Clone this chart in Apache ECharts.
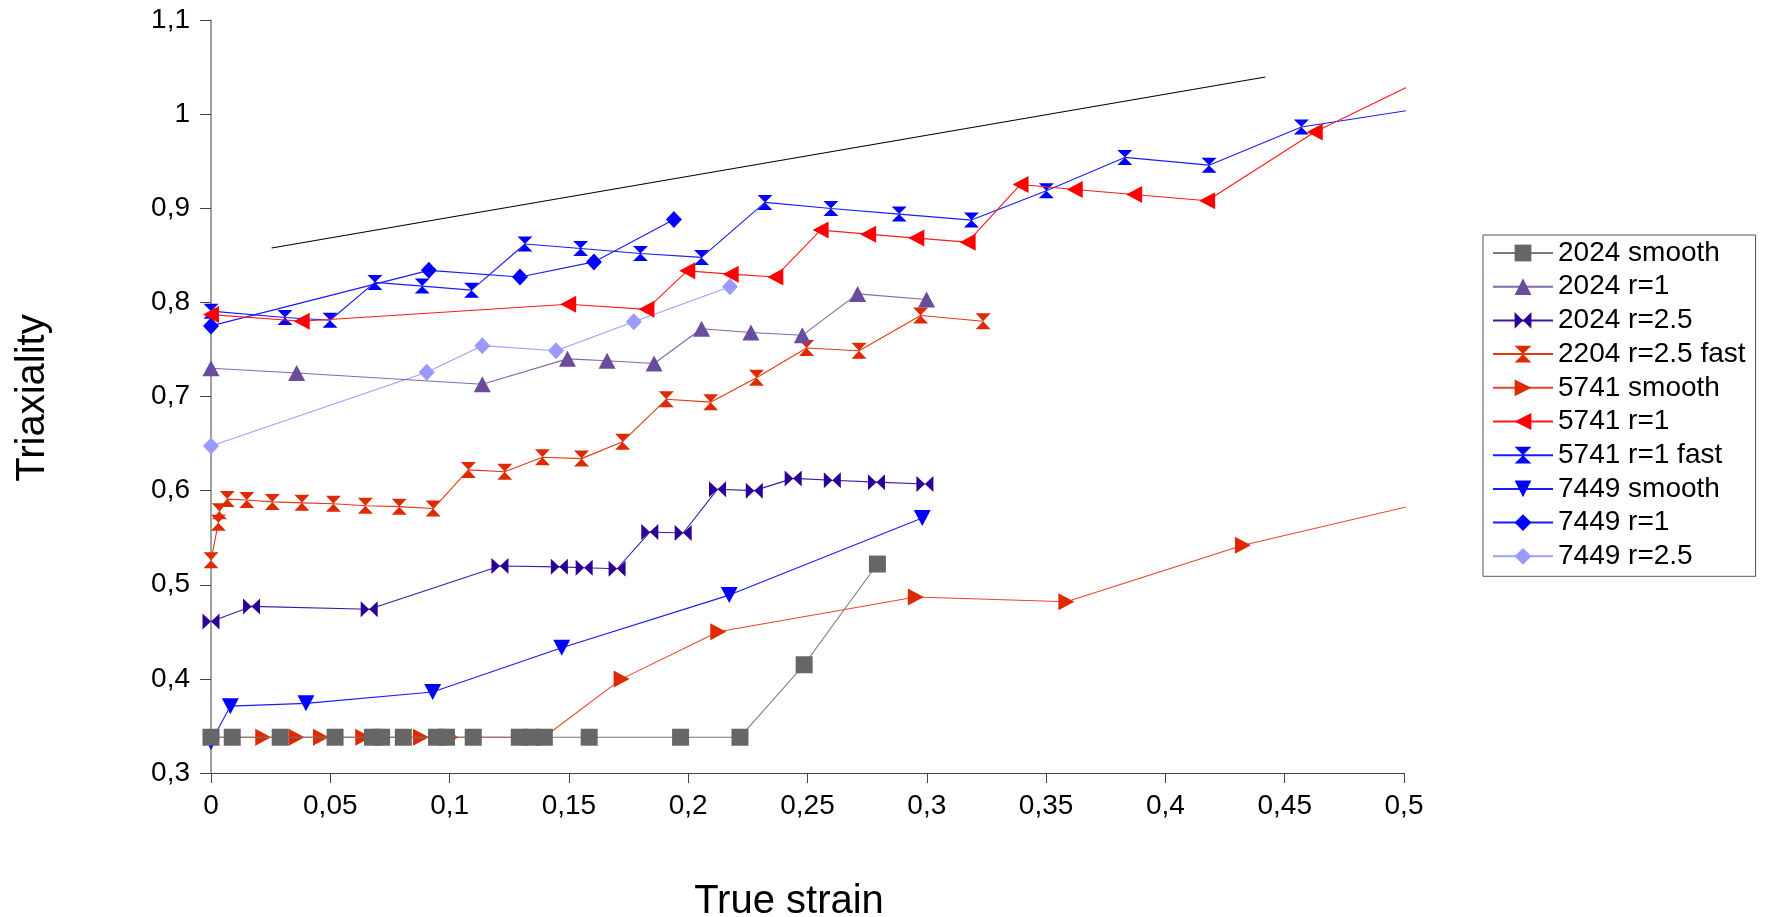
<!DOCTYPE html>
<html>
<head>
<meta charset="utf-8">
<title>Triaxiality vs true strain</title>
<script src="https://cdn.jsdelivr.net/npm/echarts@6/dist/echarts.min.js"></script>
<style>
  html, body { margin: 0; padding: 0; background: #ffffff; }
  #chart { width: 1773px; height: 917px; }
</style>
</head>
<body>
<div id="chart"></div>
<script>
// ---- Measured data: true strain (x) and triaxiality (y) per specimen ----
const seriesNames = [
  '2024 smooth', '2024 r=1', '2024 r=2.5', '2204 r=2.5 fast', '5741 smooth',
  '5741 r=1', '5741 r=1 fast', '7449 smooth', '7449 r=1', '7449 r=2.5'
];

const s2024SmoothX = [0, 0.0089, 0.029, 0.052, 0.0677, 0.0715, 0.0806, 0.0945, 0.0987, 0.1099, 0.1292, 0.1344, 0.1397, 0.1585, 0.1968, 0.2217, 0.2486, 0.2793];
const s2024SmoothY = [0.338, 0.338, 0.338, 0.338, 0.338, 0.338, 0.338, 0.338, 0.338, 0.338, 0.338, 0.338, 0.338, 0.338, 0.338, 0.338, 0.415, 0.522];

const s2024R1X = [0, 0.0359, 0.1137, 0.1494, 0.166, 0.1857, 0.2056, 0.2263, 0.2478, 0.271, 0.2999];
const s2024R1Y = [0.730, 0.725, 0.713, 0.740, 0.738, 0.735, 0.772, 0.768, 0.765, 0.809, 0.803];

const s2024R25X = [0, 0.017, 0.0663, 0.1211, 0.146, 0.1564, 0.1702, 0.1839, 0.1979, 0.2123, 0.2277, 0.244, 0.2604, 0.2789, 0.2992];
const s2024R25Y = [0.461, 0.477, 0.474, 0.520, 0.519, 0.518, 0.517, 0.556, 0.555, 0.6015, 0.600, 0.613, 0.611, 0.609, 0.607];

const s2204FastX = [0, 0.0031, 0.0035, 0.0068, 0.015, 0.0257, 0.0381, 0.0513, 0.0647, 0.0789, 0.0931, 0.1079, 0.1231, 0.1389, 0.1553, 0.1725, 0.1908, 0.2094, 0.2286, 0.2496, 0.2716, 0.2974, 0.3236];
const s2204FastY = [0.526, 0.566, 0.578, 0.591, 0.590, 0.588, 0.587, 0.586, 0.584, 0.583, 0.581, 0.622, 0.620, 0.6355, 0.634, 0.652, 0.697, 0.694, 0.720, 0.7515, 0.7486, 0.786, 0.780];

const s5741SmoothX = [0, 0.0095, 0.0219, 0.0359, 0.0461, 0.0638, 0.088, 0.1005, 0.1395, 0.1721, 0.2126, 0.2954, 0.3585, 0.4325, 0.53];
const s5741SmoothY = [0.338, 0.338, 0.338, 0.338, 0.338, 0.338, 0.338, 0.338, 0.338, 0.400, 0.450, 0.487, 0.482, 0.542, 0.600];

const s5741R1X = [0, 0.038, 0.1497, 0.1825, 0.1996, 0.2178, 0.2365, 0.2555, 0.2754, 0.2956, 0.3171, 0.3393, 0.362, 0.3869, 0.4175, 0.4626, 0.53];
const s5741R1Y = [0.787, 0.780, 0.798, 0.7926, 0.8335, 0.830, 0.827, 0.8768, 0.8725, 0.8683, 0.864, 0.9253, 0.920, 0.9146, 0.908, 0.981, 1.064];

const s5741FastX = [0, 0.031, 0.0499, 0.0687, 0.0885, 0.1092, 0.1316, 0.1549, 0.180, 0.2056, 0.2322, 0.2598, 0.2884, 0.3187, 0.3501, 0.383, 0.4183, 0.457, 0.53];
const s5741FastY = [0.7907, 0.784, 0.781, 0.8212, 0.8173, 0.813, 0.862, 0.8573, 0.852, 0.8478, 0.9062, 0.8998, 0.8938, 0.8874, 0.9185, 0.954, 0.9458, 0.9864, 1.015];

const s7449SmoothX = [0, 0.0081, 0.0398, 0.0929, 0.147, 0.2172, 0.2981];
const s7449SmoothY = [0.333, 0.371, 0.374, 0.386, 0.433, 0.489, 0.571];

const s7449R1X = [0, 0.0913, 0.1295, 0.1605, 0.194];
const s7449R1Y = [0.775, 0.834, 0.827, 0.843, 0.888];

const s7449R25X = [0, 0.0904, 0.1137, 0.1446, 0.1772, 0.2175];
const s7449R25Y = [0.6475, 0.7257, 0.754, 0.7486, 0.7794, 0.8166];

// straight reference line
const refLineX = [0.0254, 0.4419];
const refLineY = [0.8577, 1.0395];

// axis ranges and ticks
const xMin = 0, xMax = 0.5, xStep = 0.05;
const yMin = 0.3, yMax = 1.1, yStep = 0.1;

// ---- Marker shapes ----
const SYM = {
  square: 'rect',
  triUp: 'triangle',
  bowtie: 'path://M0,0 L10,5 L0,10 Z M20,0 L10,5 L20,10 Z',
  hourglass: 'path://M0,0 L10,0 L5,5 L10,10 L0,10 L5,5 Z',
  triRight: 'path://M0,0 L10,5 L0,10 Z',
  triLeft: 'path://M10,0 L0,5 L10,10 Z',
  triDown: 'path://M0,0 L10,0 L5,10 Z',
  diamond: 'diamond'
};

const zip = (xs, ys) => xs.map((x, i) => [x, ys[i]]);
const comma = (v, d) => String(+v.toFixed(d)).replace('.', ',');

const FONT = 'Liberation Sans';

const specs = [
  { x: s2024SmoothX, y: s2024SmoothY, sym: SYM.square, size: [17, 17], color: '#666666', line: '#7a7a7a' },
  { x: s2024R1X, y: s2024R1Y, sym: SYM.triUp, size: [17, 16], color: '#6a4c9c', line: '#8069aa' },
  { x: s2024R25X, y: s2024R25Y, sym: SYM.bowtie, size: [17, 16], color: '#2a0096', line: '#3d1aa0' },
  { x: s2204FastX, y: s2204FastY, sym: SYM.hourglass, size: [15, 16], color: '#de2a00', line: '#e03a14' },
  { x: s5741SmoothX, y: s5741SmoothY, sym: SYM.triRight, size: [16, 17], color: '#de2a00', line: '#e4482a' },
  { x: s5741R1X, y: s5741R1Y, sym: SYM.triLeft, size: [16, 17], color: '#ff0000', line: '#ff1a1a' },
  { x: s5741FastX, y: s5741FastY, sym: SYM.hourglass, size: [15, 15], color: '#0000ff', line: '#1a1aff' },
  { x: s7449SmoothX, y: s7449SmoothY, sym: SYM.triDown, size: [17, 16], color: '#0000ff', line: '#1a1aff' },
  { x: s7449R1X, y: s7449R1Y, sym: SYM.diamond, size: [16, 17], color: '#0000ff', line: '#1a1aff' },
  { x: s7449R25X, y: s7449R25Y, sym: SYM.diamond, size: [16, 17], color: '#9999ff', line: '#9f9fff' }
];

const series = specs.map((s, i) => ({
  name: seriesNames[i],
  type: 'line',
  data: zip(s.x, s.y),
  symbol: s.sym,
  symbolSize: s.size,
  showAllSymbol: true,
  clip: true,
  z: 30 - i,
  itemStyle: { color: s.color, opacity: 1 },
  lineStyle: { color: s.line, width: 1.1 },
  emphasis: { disabled: true },
  animation: false
}));

series.push({
  name: 'reference',
  type: 'line',
  data: zip(refLineX, refLineY),
  symbol: 'none',
  z: 5,
  lineStyle: { color: '#000000', width: 1.1 },
  emphasis: { disabled: true },
  animation: false
});

const chart = echarts.init(document.getElementById('chart'), null, { renderer: 'canvas' });

chart.setOption({
  backgroundColor: '#ffffff',
  animation: false,
  grid: { left: 211, right: 369, top: 20, bottom: 144, containLabel: false },
  xAxis: {
    type: 'value',
    min: xMin, max: xMax, interval: xStep,
    axisLine: { show: true, onZero: false, lineStyle: { color: '#444444', width: 1 } },
    axisTick: { show: true, inside: false, length: 10, lineStyle: { color: '#444444' } },
    splitLine: { show: false },
    axisLabel: {
      margin: 19, fontFamily: FONT, fontSize: 28, color: '#000000',
      formatter: v => comma(v, 2)
    }
  },
  yAxis: {
    type: 'value',
    min: yMin, max: yMax, interval: yStep,
    axisLine: { show: true, onZero: false, lineStyle: { color: '#808080', width: 1.5 } },
    axisTick: { show: true, inside: false, length: 11, lineStyle: { color: '#444444' } },
    splitLine: { show: false },
    axisLabel: {
      margin: 21, fontFamily: FONT, fontSize: 28, color: '#000000',
      formatter: v => comma(v, 1)
    }
  },
  legend: {
    data: seriesNames,
    orient: 'vertical',
    left: 1483, top: 235,
    padding: [4, 10, 6, 9],
    itemWidth: 60, itemHeight: 21, itemGap: 5.7,
    borderColor: '#555555', borderWidth: 1,
    textStyle: { fontFamily: FONT, fontSize: 28, lineHeight: 28, color: '#000000' },
    selectedMode: false
  },
  graphic: [
    {
      type: 'text', x: 789, y: 902,
      style: { text: 'True strain', font: '40px "Liberation Sans"', fill: '#000000', textAlign: 'center', textVerticalAlign: 'middle' }
    },
    {
      type: 'text', x: 33, y: 398, rotation: Math.PI / 2,
      style: { text: 'Triaxiality', font: '40px "Liberation Sans"', fill: '#000000', textAlign: 'center', textVerticalAlign: 'middle' }
    }
  ],
  series: series
});
</script>
</body>
</html>
